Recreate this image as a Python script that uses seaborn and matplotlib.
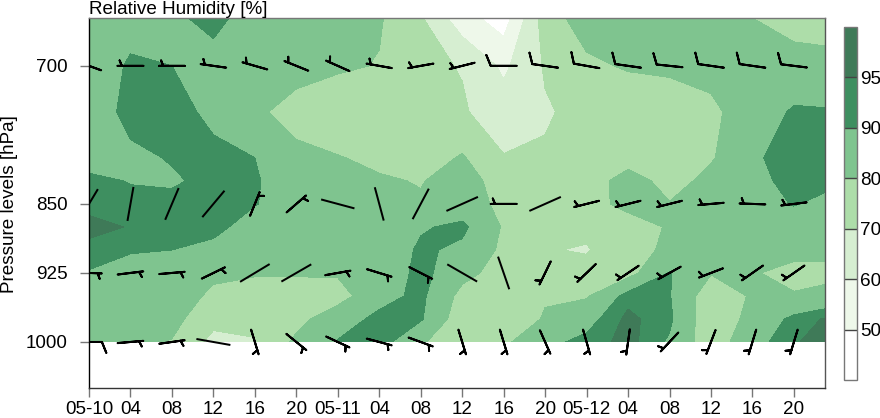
import numpy as np
import matplotlib
matplotlib.use("Agg")
import matplotlib.pyplot as plt
import seaborn as sns

# time axis in hours since 05-10 00
hours = [0, 4, 8, 12, 16, 20, 24, 28, 32, 36, 40, 44, 48, 52, 56, 60, 64, 68, 71]
tick_hours = [0, 4, 8, 12, 16, 20, 24, 28, 32, 36, 40, 44, 48, 52, 56, 60, 64, 68]
tick_labels = ["05-10", "04", "08", "12", "16", "20", "05-11", "04", "08", "12", "16", "20",
               "05-12", "04", "08", "12", "16", "20"]
pressure_ticks = [700, 850, 925, 1000]
pressure = [648, 700, 750, 800, 825, 850, 875, 900, 925, 950, 975, 1000]

# relative humidity, one list per pressure row
rh_648 = [86, 87, 88, 93, 85, 84, 82, 81, 71, 54, 45, 75, 85, 85, 85, 83, 80, 76, 73]
rh_700 = [85, 91, 90, 86, 85, 83, 81.5, 79.5, 72, 69.5, 58, 71, 78, 81, 82, 83, 85, 84, 85]
rh_750 = [84, 93, 93, 88, 81.5, 77, 73, 73, 73, 71, 65, 69, 73, 73, 74, 78, 85, 91, 90.5]
rh_800 = [88, 88, 90.6, 92, 90, 82, 80.5, 78, 75, 81, 70.5, 71, 74, 75, 74, 79, 88.5, 94, 93]
rh_825 = [91, 89.8, 89, 92, 91, 84, 82, 81, 79.5, 84, 76, 72, 74, 85, 76, 83, 87, 93, 92]
rh_850 = [93, 91, 92, 93, 90.5, 85, 84, 83, 81, 84, 78, 73, 76, 83, 80.5, 85, 86, 90.5, 88]
rh_875 = [97, 94.6, 92, 93, 85, 84, 84, 83, 89, 92, 79, 72, 72, 75, 81, 84, 84, 85, 85]
rh_900 = [93, 90.8, 90, 87, 84, 83, 83, 83, 91.5, 88, 78, 70.5, 69.3, 76, 82, 83, 83, 84, 83]
rh_925 = [89.5, 86, 85, 81.5, 81, 81, 81, 82, 93, 83, 76, 72, 73, 76.5, 90.5, 80.5, 81, 76, 77]
rh_950 = [85, 84, 84, 78.5, 75, 75, 76, 87, 92, 77, 74, 79, 79, 93, 90.5, 74, 81, 81, 83]
rh_975 = [83, 82, 83, 73, 72, 77, 86, 92, 91, 74, 72, 81, 87, 96.5, 91.5, 73, 83, 92, 95.5]
rh_1000 = [83, 82, 79.5, 67, 69.5, 82, 90.5, 94, 81, 74, 78, 88, 92, 97, 89, 74, 87, 94.5, 97]

levels = [40, 50, 60, 70, 80, 90, 95, 100]
band_colors = ["#ffffff", "#eef8ea", "#d6eed1", "#addda9", "#7fc48f", "#3e8f60", "#3f7a58"]

# wind rows: direction the staff points to (deg clockwise from north), speed in knots
barb_hours = tick_hours
dir_700 = [290, 270, 270, 278, 286, 292, 294, 280, 260, 256, 270, 278, 280, 278, 276, 278, 278, 277]
spd_700 = [5, 5, 5, 5, 5, 5, 5, 5, 5, 5, 10, 10, 10, 10, 10, 10, 10, 10]
dir_850 = [31, 10, 23, 40, 22, 49, 285, 345, 28, 66, 270, 66, 256, 256, 256, 265, 272, 263]
spd_850 = [0, 0, 0, 0, 5, 5, 0, 0, 0, 0, 5, 0, 5, 5, 5, 5, 5, 5]
dir_925 = [92, 83, 85, 64, 59, 60, 80, 107, 117, 120, 161, 206, 226, 236, 241, 249, 235, 235]
spd_925 = [5, 5, 5, 5, 0, 0, 5, 5, 5, 0, 0, 5, 5, 5, 5, 5, 5, 5]
dir_1000 = [90, 85, 82, 100, 163, 129, 115, 105, 110, 163, 163, 156, 164, 188, 223, 201, 197, 197]
spd_1000 = [10, 5, 5, 0, 5, 5, 5, 5, 5, 5, 5, 5, 5, 5, 5, 5, 5, 5]

sns.set_theme(style="ticks", rc={"axes.linewidth": 1.0, "text.color": "black"})
plt.rcParams["font.family"] = ["Liberation Sans", "DejaVu Sans"]

fig = plt.figure(figsize=(8.8, 4.18), dpi=100)
ax = fig.add_axes([89 / 880, 1 - 388 / 418, 736 / 880, 370 / 418])
cax = fig.add_axes([844 / 880, 1 - 380 / 418, 13 / 880, 353 / 418])

rh = np.array([rh_648, rh_700, rh_750, rh_800, rh_825, rh_850, rh_875, rh_900,
               rh_925, rh_950, rh_975, rh_1000])
cf = ax.contourf(hours, pressure, rh, levels=levels, colors=sns.color_palette(band_colors))

# barbs, staff-only ones go through quiver since barbs would draw a circle for them
px = []
py = []
direction = []
speed = []
for p, d, s in [(700, dir_700, spd_700), (850, dir_850, spd_850),
                (925, dir_925, spd_925), (1000, dir_1000, spd_1000)]:
    px += barb_hours
    py += [p] * len(d)
    direction += d
    speed += s
px = np.array(px)
py = np.array(py)
direction = np.radians(direction)
speed = np.array(speed)
u = -np.sin(direction)
v = -np.cos(direction)
has_feather = speed > 0

ax.barbs(px[has_feather], py[has_feather], u[has_feather] * speed[has_feather],
         v[has_feather] * speed[has_feather], pivot="middle", length=6.1, linewidth=1.45,
         barbcolor="black", sizes=dict(height=0.42, width=0.34, spacing=0.11),
         barb_increments=dict(half=5, full=10, flag=50), rounding=True)
ax.quiver(px[~has_feather], py[~has_feather], u[~has_feather], v[~has_feather], pivot="mid",
          angles="uv", scale_units="dots", scale=1 / 34.5, units="dots", width=2.0,
          headwidth=0, headlength=0, headaxislength=0, color="black")

ax.set_xlim(0, 71)
ax.set_ylim(1050, 648)
ax.set_xticks(tick_hours)
ax.set_xticklabels(tick_labels)
ax.set_yticks(pressure_ticks)
ax.tick_params(axis="both", length=6.5, width=1.0, color="#777777", labelsize=13.6,
               labelcolor="black")
ax.tick_params(axis="x", pad=3)
ax.tick_params(axis="y", pad=9)
ax.spines["left"].set_color("black")
ax.spines["bottom"].set_color("#333333")
ax.spines["right"].set_color("#555555")
ax.spines["top"].set_color("#777777")

fig.text(89 / 880, 1 - 14 / 418, "Relative Humidity [%]", fontsize=13.6, ha="left", va="baseline")
fig.text(10 / 880, 1 - 204 / 418, "Pressure levels [hPa]", fontsize=13.6, rotation=90,
         ha="center", va="center")

cbar = fig.colorbar(cf, cax=cax, drawedges=True, ticks=levels[1:-1])
cbar.ax.tick_params(length=0, pad=2, labelsize=13.6, labelcolor="black")
cbar.outline.set_edgecolor("#777777")
cbar.outline.set_linewidth(1.0)
cbar.dividers.set_color("#444444")
cbar.dividers.set_linewidth(1.0)

fig.savefig("out.png", dpi=100)
